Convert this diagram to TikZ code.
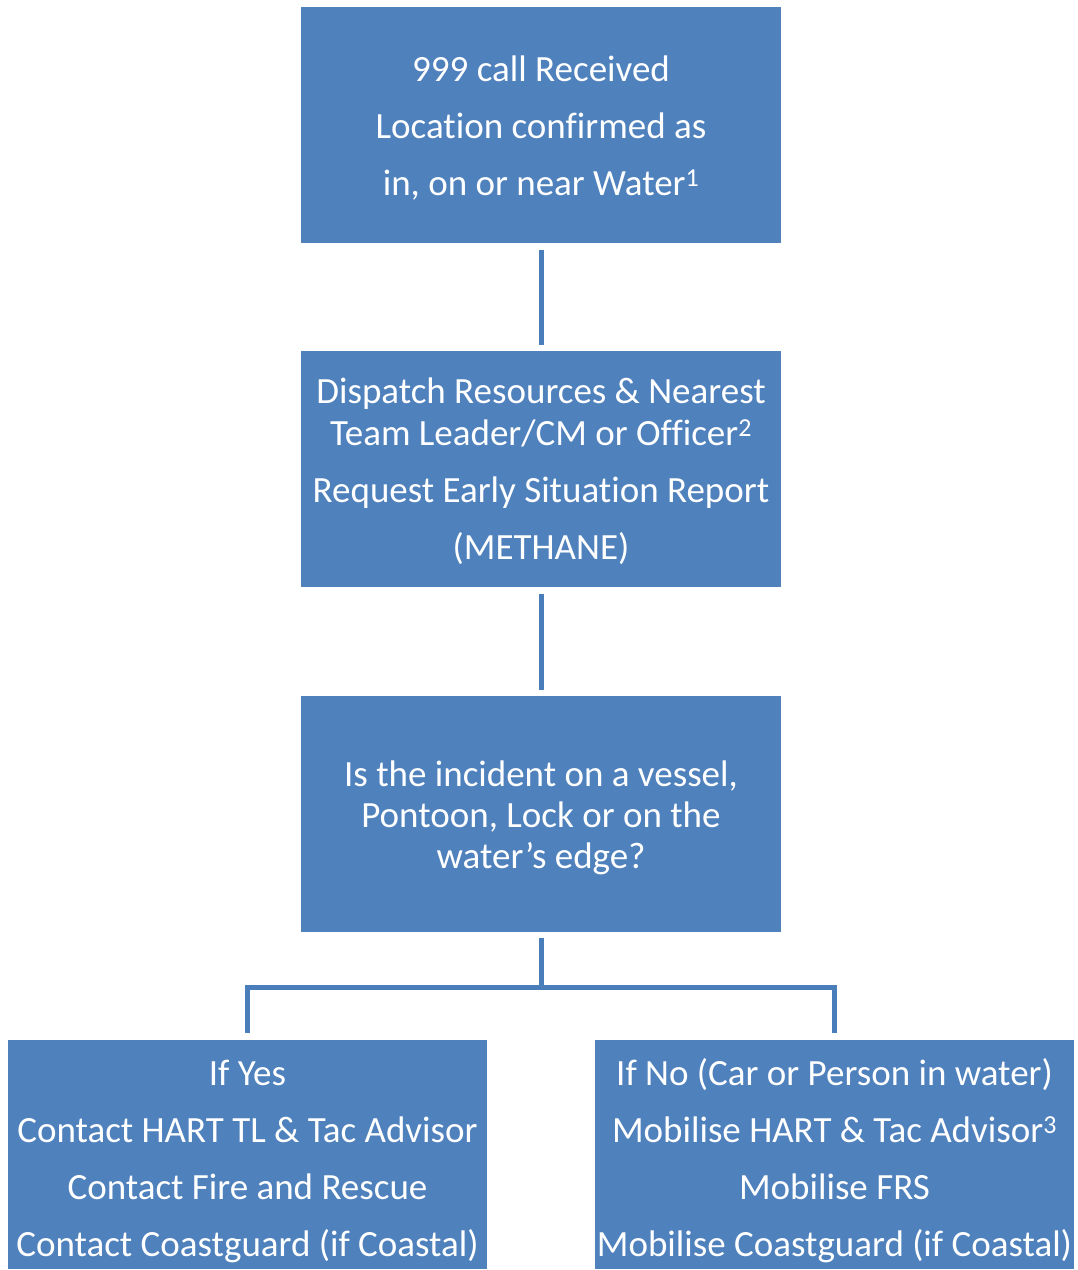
\documentclass[tikz,border=0pt]{standalone}
\usepackage{fontspec}
\setmainfont{Carlito}[Ligatures=NoCommon]
\usepackage{xcolor}
\usepackage{tikz}
\usetikzlibrary{positioning}
\definecolor{boxblue}{HTML}{4F81BD}
\definecolor{lineblue}{HTML}{4A7EBA}

\begin{document}
\begin{tikzpicture}[x=1pt,y=-1pt,
	box/.style={fill=boxblue, text=white, minimum width=480pt, minimum height=236pt, align=center, inner sep=0pt, font=\fontsize{37}{57}\selectfont},
	link/.style={draw=lineblue, line width=5pt}]
	\useasboundingbox (0,0) rectangle (1078,1270);
	\node[box] (call) at (541,125) {\rule{0pt}{31pt}999 call Received\\Location confirmed as\\in, on or near Water\textsuperscript{1}};
	\node[box] (dispatch) at (541,469) {\rule{0pt}{30pt}Dispatch Resources \& Nearest\\[-15pt]Team Leader/CM or Officer\textsuperscript{2}\\Request Early Situation Report\\(METHANE)};
	\node[box] (vessel) at (541,814) {\rule{0pt}{33pt}Is the incident on a vessel,\\[-16pt]Pontoon, Lock or on the\\[-16pt]water's edge?};
	\node[box, minimum width=479pt, minimum height=229pt] (yes) at (247.5,1154.5) {\rule{0pt}{40pt}If Yes\\Contact HART TL \& Tac Advisor\\Contact Fire and Rescue\\Contact Coastguard (if Coastal)};
	\node[box, minimum width=479pt, minimum height=229pt] (no) at (834.5,1154.5) {\rule{0pt}{40pt}If No (Car or Person in water)\\Mobilise HART \& Tac Advisor\textsuperscript{3}\\Mobilise FRS\\Mobilise Coastguard (if Coastal)};
	\coordinate (fork) at (541,987);
	% connectors
	\draw[link, shorten <=7pt, shorten >=6pt] (call.south) -- (dispatch.north);
	\draw[link, shorten <=7pt, shorten >=6pt] (dispatch.south) -- (vessel.north);
	\draw[link, shorten <=6pt] (vessel.south) -- (fork);
	\draw[link, shorten <=7pt, shorten >=7pt] (yes.north) |- (fork) -| (no.north);
\end{tikzpicture}
\end{document}
